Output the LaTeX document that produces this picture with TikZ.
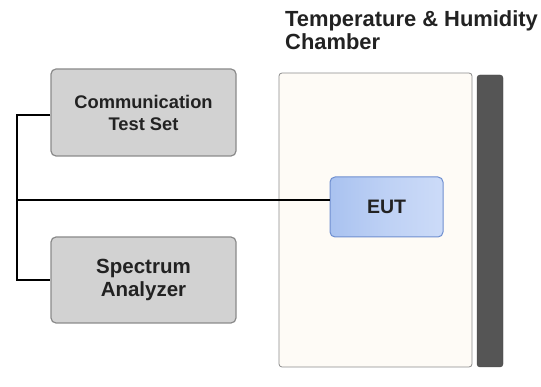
\documentclass[tikz,border=0pt]{standalone}
\usepackage{fontspec}
\setmainfont{Liberation Sans}
\definecolor{txt}{HTML}{222222}
\definecolor{boxfill}{HTML}{D2D2D2}
\definecolor{boxdraw}{HTML}{8A8A8A}
\definecolor{chfill}{HTML}{FEFBF6}
\definecolor{chdraw}{HTML}{8C8C8C}
\definecolor{bar}{HTML}{555555}
\definecolor{eutA}{HTML}{A9C2F0}
\definecolor{eutB}{HTML}{CCDBF8}
\definecolor{eutdraw}{HTML}{6F8FD0}
\tikzset{
  instbox/.style={draw=boxdraw, fill=boxfill, line width=1.2pt, rounded corners=5pt,
    minimum width=185pt, inner sep=0pt, align=center, text=txt,
    font=\bfseries\fontsize{18.3}{22}\selectfont},
  cable/.style={line width=2pt, draw=black},
}
\begin{document}
\begin{tikzpicture}[x=1pt,y=-1pt]
\useasboundingbox (0,0) rectangle (541,387);
% chamber
\node[draw=chdraw, fill=chfill, line width=0.8pt, rounded corners=3pt, minimum width=193pt, minimum height=294pt, inner sep=0pt] (chamber) at (375.5,220) {};
\node[fill=bar, draw=bar!80!black, rounded corners=3pt, minimum width=26pt, minimum height=292pt, inner sep=0pt] (door) at (490,221) {};
% title
\node[anchor=base west, inner sep=0pt, text=txt, font=\bfseries\fontsize{21.9}{23}\selectfont] (title1) at (285,27) {Temperature \& Humidity};
\node[anchor=base west, inner sep=0pt, text=txt, font=\bfseries\fontsize{21.9}{23}\selectfont] (title2) at (285,50) {Chamber};
% instruments
\node[instbox, minimum height=87pt] (cts) at (143.5,112.5) {Communication\\Test Set};
\node[instbox, minimum height=86pt, font=\bfseries\fontsize{20.5}{23}\selectfont] (sa) at (143.5,280) {Spectrum\\Analyzer};
% EUT
\node[draw=eutdraw, line width=1pt, rounded corners=5pt, left color=eutA, right color=eutB, middle color=eutB!60!eutA,
  minimum width=113pt, minimum height=60pt, inner sep=0pt, text=txt, font=\bfseries\fontsize{19.5}{22}\selectfont] (eut) at (386.5,207) {EUT};
% cabling
\coordinate (jtop) at (17,115);
\coordinate (jbot) at (17,280);
\coordinate (jmid) at (17,200);
\draw[cable, line width=2.5pt] (cts.west |- jtop) -- (jtop) -- (jbot) -- (sa.west |- jbot);
\draw[cable] (jmid) -- (jmid -| eut.west);
\end{tikzpicture}
\end{document}
